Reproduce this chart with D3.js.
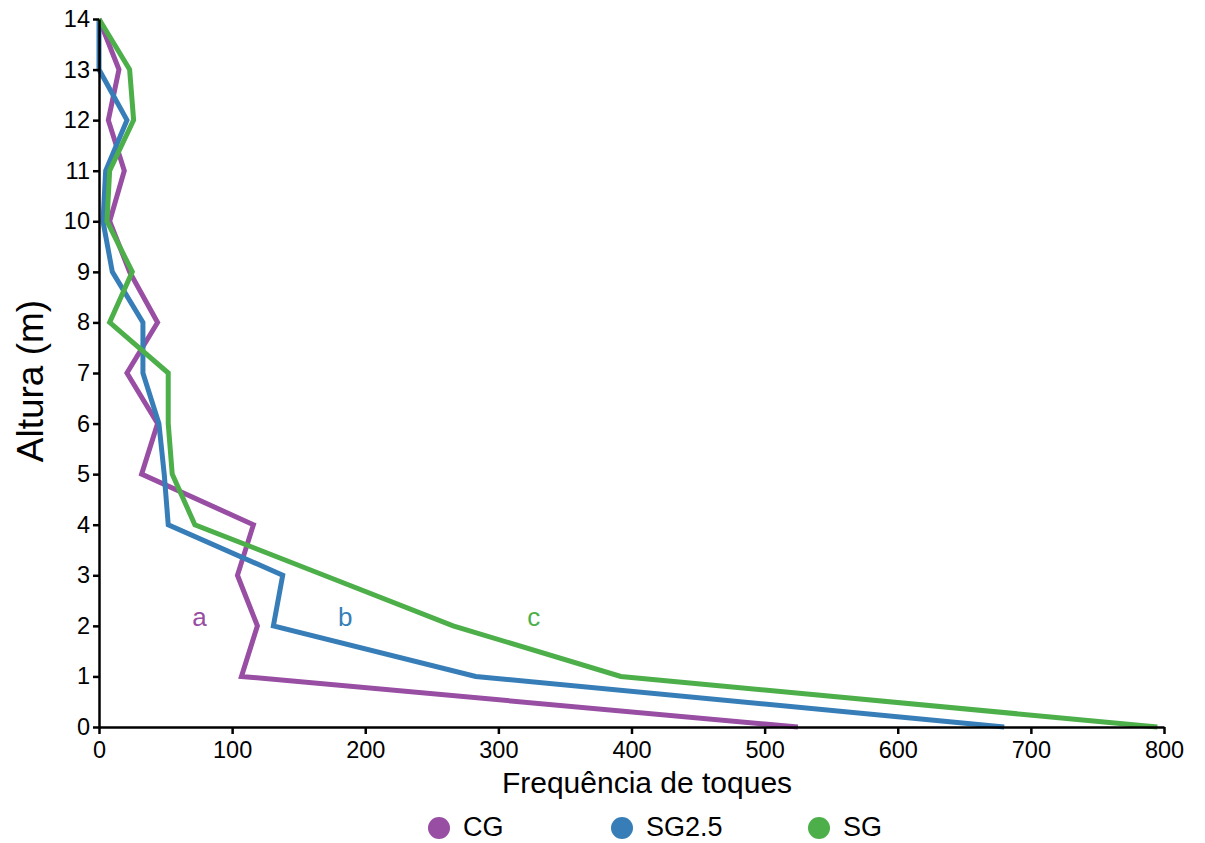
<!DOCTYPE html>
<head>
  <meta charset="UTF-8" />
  <title>Frequência de toques</title>
  <style>
    body { margin: 0; background: #fff; }
    svg { font-family: "Liberation Sans", Arial, sans-serif; }
  </style>
</head>
<body>
  <svg width="1205" height="843"></svg>
</body>

<script src="https://cdn.jsdelivr.net/npm/d3@7"></script>
<script>
  // Data
  const heights = [0, 1, 2, 3, 4, 5, 6, 7, 8, 9, 10, 11, 12, 13, 14];
  const cgValues = [525, 107, 119, 104, 116, 32, 44, 21, 44, 23, 8, 19, 7, 15, 0];
  const sg25Values = [680, 283, 131, 138, 52, 49, 45, 33, 33, 10, 3, 5, 21, 0, 0];
  const sgValues = [795, 392, 266, 169, 72, 55, 52, 52, 8, 25, 6, 8, 26, 23, 0];
  const seriesNames = ["CG", "SG2.5", "SG"];
  const seriesLetters = ["a", "b", "c"];
  const colors = ["#984ea3", "#377eb8", "#4daf4a"];
  const xTicks = [0, 100, 200, 300, 400, 500, 600, 700, 800];
  const yTicks = d3.range(0, 15);

  const svg = d3.select("svg");
  const margin = { left: 99, top: 19, right: 41, bottom: 116 };
  const width = 1205 - margin.left - margin.right;
  const height = 843 - margin.top - margin.bottom;

  const x = d3.scaleLinear().domain([0, 800]).range([0, width]);
  const y = d3.scaleLinear().domain([0, 14]).range([height, 0]);

  const g = svg.append("g").attr("transform", `translate(${margin.left},${margin.top})`);

  const series = [cgValues, sg25Values, sgValues];

  const line = d3.line()
    .x(d => x(d[0]))
    .y(d => y(d[1]));

  series.forEach((vals, i) => {
    g.append("path")
      .datum(vals.map((v, j) => [v, heights[j]]))
      .attr("fill", "none")
      .attr("stroke", colors[i])
      .attr("stroke-width", 5)
      .attr("stroke-linejoin", "miter")
      .attr("d", line);
  });

  // axes
  const xAxis = g.append("g")
    .attr("transform", `translate(0,${height})`)
    .call(d3.axisBottom(x).tickValues(xTicks).tickSize(7).tickPadding(7).tickSizeOuter(0));
  const yAxis = g.append("g")
    .call(d3.axisLeft(y).tickValues(yTicks).tickSize(6).tickPadding(3).tickSizeOuter(0));

  [xAxis, yAxis].forEach(a => {
    a.select(".domain").attr("stroke", "#000").attr("stroke-width", 2.5);
    a.selectAll(".tick line").attr("stroke", "#000").attr("stroke-width", 2.5);
    a.selectAll(".tick text")
      .attr("fill", "#000")
      .style("font-size", "23.5px")
      .style("font-family", "Liberation Sans, Arial, sans-serif");
  });

  // axis titles
  svg.append("text")
    .attr("x", 647)
    .attr("y", 793)
    .attr("text-anchor", "middle")
    .style("font-size", "30px")
    .text("Frequência de toques");

  svg.append("text")
    .attr("transform", "translate(43,381) rotate(-90)")
    .attr("text-anchor", "middle")
    .style("font-size", "37px")
    .text("Altura (m)");

  // letters
  const letterX = [75.5, 185, 326.5];
  seriesLetters.forEach((l, i) => {
    g.append("text")
      .attr("x", x(letterX[i]))
      .attr("y", y(2))
      .attr("text-anchor", "middle")
      .attr("fill", colors[i])
      .style("font-size", "26px")
      .text(l);
  });

  // legend
  const legendX = [439, 622, 819];
  const legend = svg.append("g");
  seriesNames.forEach((name, i) => {
    legend.append("circle")
      .attr("cx", legendX[i])
      .attr("cy", 828)
      .attr("r", 11)
      .attr("fill", colors[i]);
    legend.append("text")
      .attr("x", legendX[i] + 24)
      .attr("y", 836)
      .style("font-size", "27px")
      .text(name);
  });
</script>
